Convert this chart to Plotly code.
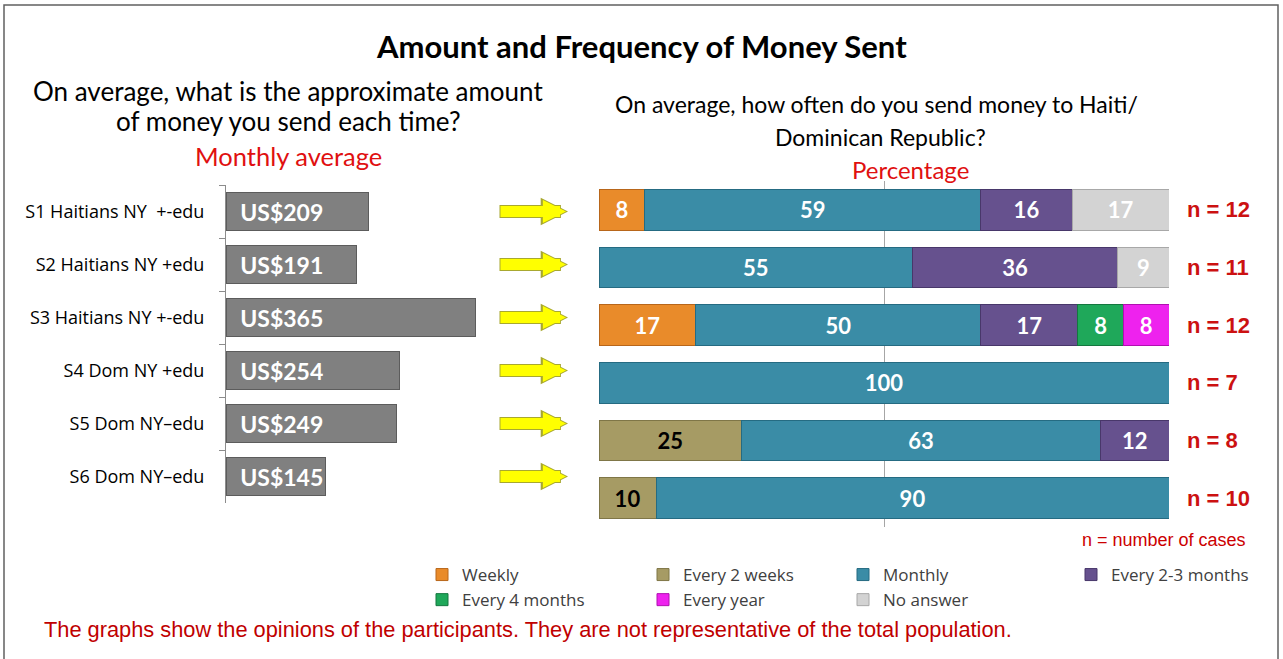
import plotly.graph_objects as go

W, H = 1283, 659

# ---------------- data ----------------
groups = ["S1 Haitians NY  +-edu", "S2 Haitians NY +edu", "S3 Haitians NY +-edu",
          "S4 Dom NY +edu", "S5 Dom NY\u2013edu", "S6 Dom NY\u2013edu"]
amounts = [209, 191, 365, 254, 249, 145]
amount_labels = ["US$209", "US$191", "US$365", "US$254", "US$249", "US$145"]

freq_names = ["Weekly", "Every 2 weeks", "Monthly", "Every 2-3 months",
              "Every 4 months", "Every year", "No answer"]
weekly = [8, 0, 17, 0, 0, 0]
every_2_weeks = [0, 0, 0, 0, 25, 10]
monthly = [59, 55, 50, 100, 63, 90]
every_2_3_months = [16, 36, 17, 0, 12, 0]
every_4_months = [0, 0, 8, 0, 0, 0]
every_year = [0, 0, 8, 0, 0, 0]
no_answer = [17, 9, 0, 0, 0, 0]
n_cases = [12, 11, 12, 7, 8, 10]

freq_values = [weekly, every_2_weeks, monthly, every_2_3_months,
               every_4_months, every_year, no_answer]
freq_colors = ["#E98B2A", "#A69B64", "#3A8CA6", "#66518E", "#1FA85A", "#EE22EE", "#D3D3D3"]
freq_lines = ["#B8661A", "#7F7647", "#256B82", "#48376A", "#14773F", "#B010B0", "#A8A8A8"]
freq_text_colors = ["white", "black", "white", "white", "white", "white", "white"]
# legend column for each frequency (two rows, four columns as in the reference)
freq_legend = ["legend", "legend2", "legend3", "legend4", "legend", "legend2", "legend3"]


def px_x(p):
    return p / W


def px_y(p):
    return 1 - p / H


fig = go.Figure()

# ---------------- left chart: amount ----------------
fig.add_trace(go.Bar(
    y=groups, x=amounts, orientation="h",
    marker=dict(color="#808080", line=dict(color="#5C5C5C", width=1)),
    width=0.70,
    text=["\u00a0\u00a0" + t for t in amount_labels],
    textposition="inside", insidetextanchor="start", textangle=0,
    constraintext="none",
    textfont=dict(family="Lato", size=23, color="white", weight="bold"),
    xaxis="x", yaxis="y", showlegend=False, hoverinfo="skip",
))

# ---------------- right chart: frequency ----------------
for i, (name, vals) in enumerate(zip(freq_names, freq_values)):
    fig.add_trace(go.Bar(
        y=groups, x=vals, orientation="h", name=name,
        marker=dict(color=freq_colors[i], line=dict(color=freq_lines[i], width=1)),
        width=0.71,
        text=[str(v) if v else "" for v in vals],
        textposition="inside", insidetextanchor="middle", textangle=0,
        constraintext="none",
        textfont=dict(family="Lato", size=22, color=freq_text_colors[i], weight="bold"),
        xaxis="x2", yaxis="y2", hoverinfo="skip",
        legend=freq_legend[i],
    ))

legend_font = dict(family="Open Sans", size=17, color="#404040")


def legend_at(text_x):
    return dict(orientation="v", x=px_x(text_x - 41), xanchor="left",
                y=px_y(557), yanchor="top", font=legend_font,
                bgcolor="rgba(0,0,0,0)", itemclick=False, itemdoubleclick=False,
                traceorder="normal", tracegroupgap=0)


fig.update_layout(
    width=W, height=H,
    margin=dict(l=0, r=0, t=0, b=0, pad=0),
    paper_bgcolor="white", plot_bgcolor="rgba(0,0,0,0)",
    barmode="stack",
    font=dict(family="Lato", color="#000000"),
    xaxis=dict(domain=[px_x(226), px_x(226 + 400 * 0.684)], range=[0, 400],
               showgrid=False, zeroline=False, showticklabels=False, showline=False),
    yaxis=dict(domain=[px_y(503), px_y(185)], autorange="reversed",
               categoryorder="array", categoryarray=groups,
               showline=True, linecolor="#8C8C8C", linewidth=1,
               ticks="outside", tickson="boundaries", ticklen=6, tickcolor="#8C8C8C",
               ticklabelstandoff=17,
               tickfont=dict(family="Open Sans", size=18, color="#000000")),
    xaxis2=dict(domain=[px_x(599), px_x(1169)], range=[0, 100],
                tickvals=[0, 50, 100], showgrid=True, gridcolor="#A6A6A6", gridwidth=1,
                zeroline=False, showticklabels=False, showline=False, anchor="y2"),
    yaxis2=dict(domain=[px_y(527), px_y(181)], autorange="reversed",
                categoryorder="array", categoryarray=groups,
                showticklabels=False, showgrid=False, zeroline=False, showline=False,
                anchor="x2"),
    legend=legend_at(463),
    legend2=legend_at(684),
    legend3=legend_at(884),
    legend4=legend_at(1112),
    showlegend=True,
)

annotations = []


def text_ann(txt, x, y, size, color="#000000", family="Lato", weight="normal",
             xanchor="center"):
    annotations.append(dict(text=txt, x=px_x(x), y=px_y(y), xref="paper", yref="paper",
                            xanchor=xanchor, yanchor="middle", showarrow=False,
                            font=dict(family=family, size=size, color=color, weight=weight)))


text_ann("Amount and Frequency of Money Sent", 641, 46, 31, weight="bold")
text_ann("On average, what is the approximate amount", 288, 91, 26)
text_ann("of money you send each time?", 288, 121, 26)
text_ann("Monthly average", 288, 156, 25.5, color="#E01010")
text_ann("On average, how often do you send money to Haiti/", 876, 104, 23)
text_ann("Dominican Republic?", 880, 137, 23)
text_ann("Percentage", 910, 170, 24, color="#E01010")
text_ann("n = number of cases", 1248, 540, 18, color="#CC0000", family="Liberation Sans",
         xanchor="right")
text_ann("The graphs show the opinions of the participants. They are not representative of the total population.",
         42, 629, 21.8, color="#C00000", family="Liberation Sans", xanchor="left")

# n = labels next to right bars
for g, n in zip(groups, n_cases):
    annotations.append(dict(text=f"n = {n}", x=px_x(1185), xref="paper", y=g, yref="y2",
                            xanchor="left", yanchor="middle", showarrow=False,
                            font=dict(family="Liberation Sans", size=22, color="#CC1111",
                                      weight="bold")))

# yellow arrows between the charts
for g in groups:
    annotations.append(dict(text="", x=px_x(568), xref="paper", y=g, yref="y",
                            ax=-70, ay=0, axref="pixel", ayref="pixel",
                            showarrow=True, arrowhead=2, arrowsize=0.42, arrowwidth=13,
                            arrowcolor="#A8A830", standoff=0, startstandoff=0))
    annotations.append(dict(text="", x=px_x(566), xref="paper", y=g, yref="y",
                            ax=-67, ay=0, axref="pixel", ayref="pixel",
                            showarrow=True, arrowhead=2, arrowsize=0.42, arrowwidth=11,
                            arrowcolor="#FFFF00", standoff=0, startstandoff=0))

fig.update_layout(annotations=annotations)

fig.update_layout(shapes=[dict(type="rect", xref="paper", yref="paper",
                               x0=px_x(4), x1=px_x(1278), y0=-0.05, y1=px_y(5),
                               line=dict(color="#606060", width=1.5), fillcolor="rgba(0,0,0,0)",
                               layer="below")])

fig.write_html("out.html", config={"displayModeBar": False},
               post_script="document.body.style.margin='0';")
